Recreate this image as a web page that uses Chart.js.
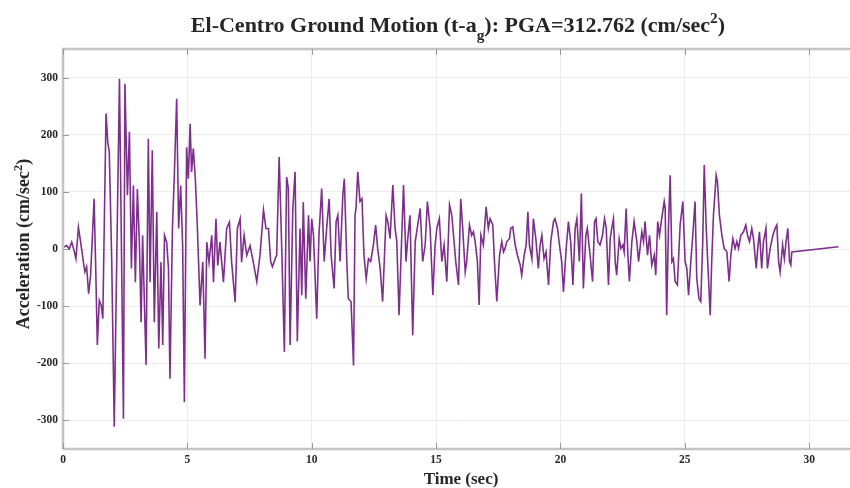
<!DOCTYPE html>
<html>
<head>
<meta charset="utf-8">
<title>El-Centro Ground Motion</title>
<script src="https://cdn.jsdelivr.net/npm/chart.js@4.4.1/dist/chart.umd.min.js"></script>
<style>
  html, body { margin: 0; padding: 0; background: #fff; }
  #wrap { width: 850px; height: 488px; }
</style>
</head>
<body>
<div id="wrap"><canvas id="chart" width="850" height="488"></canvas></div>
<script>
// Time samples (sec)
const TIME = [
  0.01, 0.15, 0.25, 0.35, 0.44, 0.52, 0.62, 0.71, 0.82, 0.88, 0.95, 1.03, 1.11, 1.25, 1.31, 1.38,
  1.46, 1.54, 1.60, 1.73, 1.80, 1.86, 1.96, 2.06, 2.27, 2.43, 2.49, 2.59, 2.67, 2.75, 2.83, 2.91,
  2.99, 3.07, 3.14, 3.20, 3.34, 3.43, 3.50, 3.59, 3.67, 3.77, 3.85, 3.94, 4.01, 4.08, 4.17, 4.24,
  4.30, 4.40, 4.48, 4.57, 4.65, 4.73, 4.81, 4.88, 4.97, 5.04, 5.11, 5.17, 5.24, 5.32, 5.40, 5.51,
  5.62, 5.71, 5.78, 5.87, 5.98, 6.05, 6.15, 6.22, 6.31, 6.45, 6.58, 6.69, 6.78, 6.92, 7.01, 7.12,
  7.18, 7.28, 7.39, 7.52, 7.65, 7.79, 7.92, 8.06, 8.16, 8.26, 8.35, 8.42, 8.53, 8.59, 8.69, 8.79,
  8.90, 8.99, 9.06, 9.13, 9.24, 9.33, 9.42, 9.53, 9.60, 9.66, 9.76, 9.87, 9.93, 10.00, 10.07, 10.20,
  10.29, 10.40, 10.50, 10.60, 10.70, 10.78, 10.90, 10.98, 11.05, 11.14, 11.25, 11.31, 11.41, 11.47, 11.58, 11.68,
  11.74, 11.78, 11.85, 11.94, 12.02, 12.10, 12.19, 12.28, 12.37, 12.48, 12.57, 12.65, 12.75, 12.85, 12.99, 13.06,
  13.15, 13.26, 13.35, 13.42, 13.51, 13.62, 13.69, 13.79, 13.85, 13.95, 14.06, 14.16, 14.22, 14.36, 14.46, 14.56,
  14.65, 14.76, 14.87, 14.96, 15.03, 15.13, 15.23, 15.32, 15.43, 15.54, 15.63, 15.70, 15.79, 15.90, 15.99, 16.07,
  16.17, 16.23, 16.34, 16.43, 16.50, 16.57, 16.66, 16.73, 16.80, 16.90, 17.01, 17.10, 17.17, 17.28, 17.34, 17.44,
  17.55, 17.64, 17.71, 17.77, 17.84, 17.95, 18.00, 18.08, 18.18, 18.27, 18.38, 18.44, 18.54, 18.62, 18.69, 18.75,
  18.85, 18.91, 19.01, 19.11, 19.18, 19.25, 19.34, 19.42, 19.52, 19.61, 19.72, 19.78, 19.88, 19.96, 20.05, 20.12,
  20.23, 20.32, 20.41, 20.50, 20.59, 20.66, 20.76, 20.84, 20.92, 21.02, 21.08, 21.19, 21.29, 21.37, 21.43, 21.50,
  21.59, 21.69, 21.77, 21.84, 21.93, 22.00, 22.06, 22.13, 22.20, 22.26, 22.36, 22.43, 22.51, 22.56, 22.64, 22.71,
  22.77, 22.87, 22.96, 23.07, 23.14, 23.27, 23.34, 23.40, 23.50, 23.58, 23.67, 23.77, 23.83, 23.91, 23.98, 24.07,
  24.17, 24.21, 24.27, 24.34, 24.41, 24.48, 24.54, 24.61, 24.70, 24.81, 24.92, 25.01, 25.08, 25.15, 25.24, 25.32,
  25.41, 25.48, 25.57, 25.64, 25.72, 25.78, 25.86, 25.92, 26.02, 26.08, 26.15, 26.26, 26.31, 26.39, 26.49, 26.58,
  26.69, 26.78, 26.85, 26.93, 27.02, 27.09, 27.16, 27.25, 27.36, 27.45, 27.52, 27.60, 27.69, 27.76, 27.87, 27.93,
  28.00, 28.09, 28.16, 28.26, 28.32, 28.43, 28.54, 28.63, 28.70, 28.77, 28.83, 28.93, 29.00, 29.07, 29.14, 29.21,
  29.26, 29.30, 31.18
];

// Ground acceleration (cm/sec^2) at those times
const ACCEL = [
  3, 6, 0, 12, -2, -17, 38, 12, -23, -40, -31, -78, -46, 88, -23, -168,
  -90, -99, -122, 237, 187, 170, -23, -311, 298, -297, 289, 94, 205, -34, 111, -58,
  105, 12, -128, 24, -203, 193, -58, 173, -128, 65, -174, -23, -168, 24, 12, -34,
  -227, 36, 135, 263, 36, 111, 6, -268, 178, 123, 219, 135, 176, 123, 41, -99,
  -23, -192, 12, -23, 24, -58, 53, -29, 12, -58, 36, 47, -23, -93, 36, 53,
  -23, 24, -11, 6, -23, -57, -11, 68, 36, 36, -22, -31, -17, -11, 161, 7,
  -180, 126, 106, -168, 71, 135, -162, 36, -81, 82, -87, 59, -22, 53, 24, -122,
  24, 106, -22, 36, 88, -11, -69, 48, 59, -22, 94, 123, -22, -87, -92, -204,
  59, 71, 135, 83, 88, -11, -52, -17, -22, 7, 42, 1, -34, -92, 59, 48,
  18, 112, 36, 13, -116, 24, 112, -22, 13, 59, -151, 13, 30, 71, -22, 7,
  83, 36, -81, 7, 36, 53, -22, 7, -57, 77, 59, 24, -22, -63, 88, 36,
  -40, -22, 42, 24, 30, 13, -22, -98, 24, 7, 74, 36, 53, 42, -17, -92,
  -11, 13, -5, 1, 13, 18, 36, 39, 7, -11, -28, -46, -11, 7, 65, 7,
  -17, 53, 18, -34, 7, 24, -17, -5, -63, 13, 48, 53, 36, 7, -22, -75,
  1, 48, 13, -63, 36, 53, -22, 97, -69, 24, 36, -11, -57, 48, 53, 13,
  7, 24, 53, 36, -63, 18, 36, 53, -22, -46, 18, 1, 7, -5, 71, -11,
  -57, 13, 48, 13, -22, 30, 13, 48, -11, 24, -28, -11, -46, 48, 24, 53,
  83, 71, -116, 36, 129, -22, -17, -57, -63, 42, 83, -22, -34, -81, -22, 24,
  83, -52, -87, -92, 13, 147, 36, -22, -116, -22, 59, 129, 118, 59, 24, 1,
  -5, -57, -11, 18, 1, 13, 1, 24, 30, 42, 24, 13, 36, 18, -34, 1,
  30, -34, 13, 36, -34, 1, 24, 36, 42, -22, -40, 7, -17, 13, 36, -22,
  -28, -5, 4
];

const X_TICKS = [0, 5, 10, 15, 20, 25, 30];
const Y_TICKS = [-300, -200, -100, 0, 100, 200, 300];

const LINE_COLOR = '#7E2F8E';
const TEXT_COLOR = '#262626';
const SERIF = '"Liberation Serif", "Times New Roman", serif';

// draw a run of text pieces, some raised or lowered, centred on cx
function drawPieces(ctx, pieces, size, cx, cy) {
  const widths = pieces.map(p => {
    ctx.font = 'bold ' + (p.shift ? size * 0.7 : size) + 'px ' + SERIF;
    return ctx.measureText(p.text).width;
  });
  const total = widths.reduce((a, b) => a + b, 0);
  let x = cx - total / 2;
  pieces.forEach((p, i) => {
    ctx.font = 'bold ' + (p.shift ? size * 0.7 : size) + 'px ' + SERIF;
    ctx.fillText(p.text, x, cy + (p.shift || 0) * size);
    x += widths[i];
  });
}

const labelsPlugin = {
  id: 'labels',
  afterDraw(chart) {
    const ctx = chart.ctx;
    const area = chart.chartArea;
    ctx.save();
    ctx.fillStyle = TEXT_COLOR;
    ctx.textBaseline = 'alphabetic';
    ctx.textAlign = 'left';

    // main title
    drawPieces(ctx, [
      { text: 'El-Centro Ground Motion (t-a' },
      { text: 'g', shift: 0.35 },
      { text: '): PGA=312.762 (cm/sec' },
      { text: '2', shift: -0.4 },
      { text: ')' }
    ], 22, 458, 32);

    // x axis title
    drawPieces(ctx, [{ text: 'Time (sec)' }], 17, 461, 484);

    // y axis title, rotated
    ctx.translate(29, 244);
    ctx.rotate(-Math.PI / 2);
    drawPieces(ctx, [
      { text: 'Acceleration (cm/sec' },
      { text: '2', shift: -0.4 },
      { text: ')' }
    ], 18, 0, 0);
    ctx.restore();

    // axes box with inward tick marks
    const xs = chart.scales.x, ys = chart.scales.y;
    ctx.save();
    ctx.strokeStyle = '#c4c4c4';
    ctx.lineWidth = 2.5;
    ctx.beginPath();
    ctx.moveTo(area.left, area.bottom);
    ctx.lineTo(area.left, area.top);
    ctx.lineTo(area.right + 2, area.top);
    ctx.moveTo(area.left, area.bottom);
    ctx.lineTo(area.right + 2, area.bottom);
    ctx.stroke();
    ctx.strokeStyle = '#9a9a9a';
    ctx.lineWidth = 1;
    ctx.beginPath();
    X_TICKS.forEach(v => {
      const px = Math.round(xs.getPixelForValue(v)) + 0.5;
      ctx.moveTo(px, area.top);
      ctx.lineTo(px, area.top + 6);
      ctx.moveTo(px, area.bottom);
      ctx.lineTo(px, area.bottom - 6);
    });
    Y_TICKS.forEach(v => {
      const py = Math.round(ys.getPixelForValue(v)) + 0.5;
      ctx.moveTo(area.left, py);
      ctx.lineTo(area.left + 6, py);
    });
    ctx.stroke();
    ctx.restore();
  }
};

const points = TIME.map((t, i) => ({ x: t, y: ACCEL[i] }));

new Chart(document.getElementById('chart'), {
  type: 'line',
  data: {
    datasets: [{
      data: points,
      borderColor: LINE_COLOR,
      borderWidth: 1.6,
      pointRadius: 0,
      tension: 0,
      fill: false
    }]
  },
  options: {
    responsive: false,
    animation: false,
    layout: { padding: { top: 49, left: 0, right: 0, bottom: 0 } },
    plugins: {
      legend: { display: false },
      tooltip: { enabled: false }
    },
    scales: {
      x: {
        type: 'linear',
        min: 0,
        max: 31.64,
        afterBuildTicks: (scale) => { scale.ticks = X_TICKS.map(v => ({ value: v })); },
        afterFit: (scale) => { scale.height = 39; },
        ticks: {
          padding: 4,
          maxRotation: 0,
          color: TEXT_COLOR,
          font: { family: SERIF, size: 11.5, weight: 'bold' }
        },
        grid: { color: '#ececec', lineWidth: 1, drawTicks: false },
        border: { display: false }
      },
      y: {
        min: -350,
        max: 350,
        afterBuildTicks: (scale) => { scale.ticks = Y_TICKS.map(v => ({ value: v })); },
        afterFit: (scale) => { scale.width = 63; },
        ticks: {
          padding: 5,
          color: TEXT_COLOR,
          font: { family: SERIF, size: 11.5, weight: 'bold' }
        },
        grid: { color: '#ececec', lineWidth: 1, drawTicks: false },
        border: { display: false }
      }
    }
  },
  plugins: [labelsPlugin]
});
</script>
</body>
</html>
